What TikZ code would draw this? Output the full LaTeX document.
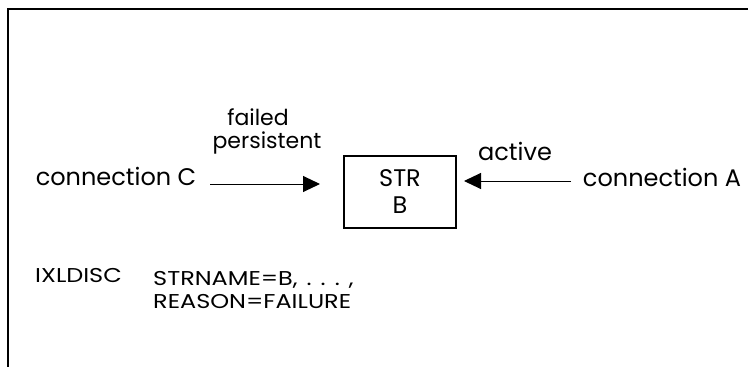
\documentclass[tikz,border=0pt]{standalone}
\usepackage{fontspec}
\setmainfont{Poppins}
\newfontfamily\widefont[FakeStretch=1.2]{Poppins}
\usetikzlibrary{arrows.meta}
\begin{document}
\begin{tikzpicture}[x=1pt,y=-1pt,
  frame/.style={line width=2.2pt,black},
  strbox/.style={draw,line width=2pt,minimum width=112pt,minimum height=72pt,inner sep=0pt,align=center,font=\fontsize{24}{26}\selectfont},
  lbl/.style={inner sep=0pt,anchor=base,font=\fontsize{24}{27}\selectfont},
  lblsm/.style={inner sep=0pt,anchor=base,font=\fontsize{22}{24}\selectfont},
  small/.style={inner sep=0pt,anchor=base west,font=\widefont\fontsize{20}{22}\selectfont},
  arr/.style={line width=1pt,-{Triangle[length=17pt,width=16pt]}}]
\useasboundingbox (0,0) rectangle (748,367);
\draw[frame] (748,9) -- (8,9) -- (8,368);
\node[strbox] (strb) at (400,192) {STR\\[1pt]B};
\node[lbl] (connC) at (116,185) {connection C};
\node[lblsm] (failed) at (258,125) {failed};
\node[lblsm] (persist) at (267,148) {persistent};
\node[lbl] (active) at (515,160) {active};
\node[lbl] (connA) at (662,186) {connection A};
\node[small] (ixl) at (35,282) {IXLDISC};
\node[small] (parms1) at (153,285) {STRNAME=B,\hspace{9pt}.\hspace{9pt}.\hspace{9pt}.\hspace{9pt},};
\node[small] (parms2) at (153,308) {REASON=FAILURE};
\coordinate (cS) at (210,184);
\coordinate (cE) at (320,184);
\coordinate (aS) at (571,181);
\coordinate (aE) at (464,181);
\draw[arr] (cS) -- (cE);
\draw[arr] (aS) -- (aE);
\end{tikzpicture}
\end{document}
